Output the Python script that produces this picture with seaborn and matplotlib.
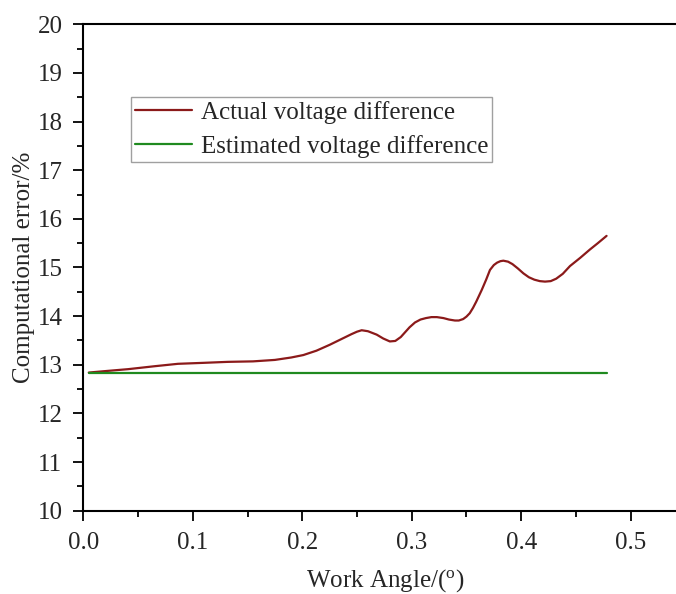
import matplotlib
matplotlib.use("Agg")
import matplotlib.pyplot as plt
import seaborn as sns
import pandas as pd

# Data
angle_actual = [0.005, 0.02, 0.041, 0.065, 0.0865, 0.11, 0.132, 0.155, 0.175, 0.19,
                0.201, 0.213, 0.225, 0.235, 0.245, 0.25, 0.2543, 0.26, 0.268, 0.274,
                0.280, 0.285, 0.29, 0.294, 0.298, 0.303, 0.308, 0.313, 0.318, 0.323,
                0.329, 0.334, 0.3395, 0.343, 0.347, 0.35, 0.353, 0.356, 0.359, 0.364,
                0.368, 0.3715, 0.375, 0.378, 0.381, 0.3837, 0.388, 0.392, 0.397, 0.402,
                0.407, 0.412, 0.417, 0.4218, 0.427, 0.432, 0.438, 0.4446, 0.454, 0.4628,
                0.47, 0.478]
error_actual = [12.84, 12.87, 12.91, 12.97, 13.02, 13.04, 13.06, 13.07, 13.10, 13.15,
                13.20, 13.29, 13.41, 13.52, 13.63, 13.68, 13.71, 13.69, 13.62, 13.54,
                13.48, 13.49, 13.57, 13.67, 13.77, 13.87, 13.93, 13.96, 13.98, 13.98,
                13.96, 13.93, 13.91, 13.91, 13.94, 13.99, 14.06, 14.17, 14.30, 14.54,
                14.75, 14.95, 15.05, 15.10, 15.13, 15.14, 15.12, 15.07, 14.98, 14.88,
                14.80, 14.75, 14.72, 14.71, 14.72, 14.77, 14.87, 15.03, 15.20, 15.37,
                15.50, 15.65]
angle_est = [0.005, 0.478]
error_est = [12.84, 12.84]

series_names = ["Actual voltage difference", "Estimated voltage difference"]
x_ticks = [0.0, 0.1, 0.2, 0.3, 0.4, 0.5]
y_ticks = [10, 11, 12, 13, 14, 15, 16, 17, 18, 19, 20]

sns.set_theme(style="ticks")
plt.rcParams["font.family"] = ["Liberation Serif", "DejaVu Serif"]
plt.rcParams["mathtext.fontset"] = "custom"
plt.rcParams["mathtext.rm"] = "Liberation Serif"
plt.rcParams["mathtext.it"] = "Liberation Serif:italic"

df = pd.concat([
    pd.DataFrame({"x": angle_actual, "y": error_actual, "s": series_names[0]}),
    pd.DataFrame({"x": angle_est, "y": error_est, "s": series_names[1]}),
])

XMAX = 0.6
AX_W_PX = XMAX * 1094.7
fig = plt.figure(figsize=(6.76, 5.94), dpi=100)
ax = fig.add_axes([83.3 / 676, (594 - 510.7) / 594, AX_W_PX / 676, 486.4 / 594])

sns.lineplot(data=df, x="x", y="y", hue="s", sort=False, ax=ax,
             palette={series_names[0]: "#8b1a1a", series_names[1]: "#1f8a1f"},
             linewidth=1.6)

ax.set_xlim(0, XMAX)
ax.set_ylim(10, 20)
ax.set_xticks(x_ticks)
ax.set_xticklabels([f"{t:.1f}" for t in x_ticks])
ax.set_yticks(y_ticks)
ax.set_xticks([0.05, 0.15, 0.25, 0.35, 0.45, 0.55], minor=True)
ax.set_yticks([v + 0.5 for v in y_ticks[:-1]], minor=True)
ax.tick_params(axis="both", which="major", length=7, width=1.3, labelsize=18, pad=8, color="black")
ax.tick_params(axis="both", which="minor", length=4, width=1.3, color="black")

for side in ["left", "bottom", "top"]:
    ax.spines[side].set_visible(True)
    ax.spines[side].set_linewidth(1.5)
    ax.spines[side].set_color("black")
ax.spines["right"].set_visible(False)

ax.set_xlabel("Work Angle/($^{\\mathrm{o}}$)", fontsize=18, labelpad=10)
ax.xaxis.label.set_x((385 - 83.3) / AX_W_PX)
ax.set_ylabel("Computational error/%", fontsize=18, labelpad=2)

leg = ax.legend(loc="upper left", bbox_to_anchor=((131 - 83.3) / AX_W_PX, 0.8505),
                fontsize=18, frameon=True, fancybox=False, handlelength=2.3,
                handletextpad=0.35, borderpad=0.15, labelspacing=0.45, borderaxespad=0)
leg.get_frame().set_edgecolor("#888888")
leg.get_frame().set_linewidth(1.0)

fig.savefig("out.png", dpi=100)
